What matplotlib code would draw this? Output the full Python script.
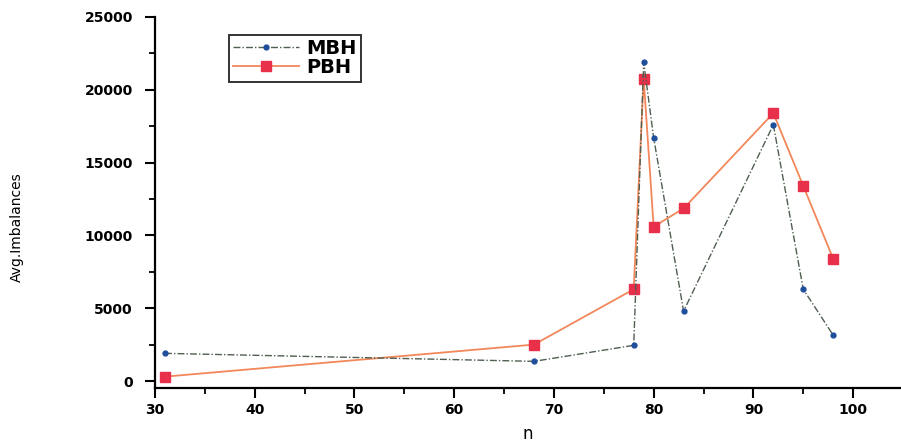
import matplotlib
matplotlib.use("Agg")
import matplotlib.pyplot as plt
from matplotlib.ticker import MultipleLocator

n_mbh = [31, 68, 78, 79, 80, 83, 92, 95, 98]
mbh = [1900, 1350, 2450, 21900, 16700, 4800, 17600, 6300, 3150]
n_pbh = [31, 68, 78, 79, 80, 83, 92, 95, 98]
pbh = [300, 2500, 6300, 20750, 10600, 11850, 18400, 13400, 8400]

xticks = [30, 40, 50, 60, 70, 80, 90, 100]
yticks = [0, 5000, 10000, 15000, 20000, 25000]

W, H = 901, 444
fig = plt.figure(figsize=(W / 100, H / 100), dpi=100)
ax = fig.add_axes([155 / W, (H - 388) / H, (900 - 155) / W, (388 - 17) / H])

ax.plot(n_mbh, mbh, color="#4f5f50", lw=1.0, ls=(0, (5, 1.5, 1, 1.5)),
        marker="o", ms=3.5, mfc="#1f4e9c", mec="#1f4e9c", label="MBH", zorder=3)
ax.plot(n_pbh, pbh, color="#f2875a", lw=1.3,
        marker="s", ms=6.5, mfc="#e8304a", mec="#e8304a", label="PBH", zorder=2)

ax.set_xlim(30, 104.7)
ax.set_ylim(-480, 25000)
ax.set_xticks(xticks)
ax.set_yticks(yticks)
ax.xaxis.set_minor_locator(MultipleLocator(5))
ax.yaxis.set_minor_locator(MultipleLocator(2500))
ax.spines["top"].set_visible(False)
ax.spines["right"].set_visible(False)
for s in ("left", "bottom"):
    ax.spines[s].set_linewidth(1.6)
ax.tick_params(which="major", direction="out", length=7, width=1.5, labelsize=10)
ax.tick_params(axis="y", which="major", pad=9)
ax.tick_params(which="minor", direction="out", length=4, width=1.3)
for lab in ax.get_xticklabels() + ax.get_yticklabels():
    lab.set_fontweight("bold")

ax.set_xlabel("n", fontsize=12, labelpad=6)
ax.set_ylabel("Avg.Imbalances", fontsize=10)
ax.yaxis.set_label_coords((24 - 155) / 745, (388 - 227) / 371)

leg = ax.legend(loc="upper left", bbox_to_anchor=((229 - 155) / 745, (388 - 35) / 371),
                frameon=True, fancybox=False, edgecolor="black",
                prop={"weight": "bold", "size": 14}, handlelength=3.4,
                borderpad=0.22, labelspacing=0.0, handletextpad=0.35,
                borderaxespad=0.0)
leg.get_frame().set_linewidth(1.4)

fig.savefig("out.png", dpi=100, facecolor="white")
